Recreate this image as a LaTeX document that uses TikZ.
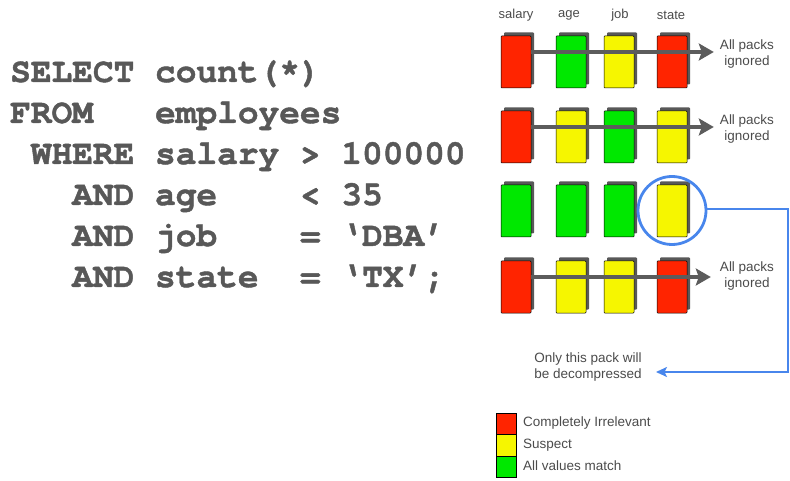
\documentclass[tikz,border=0pt]{standalone}
\usepackage{fontspec}
\setmainfont{Liberation Sans}
\newfontfamily\sqlfont[WordSpace={1,0,0},FakeBold=1.2]{texgyrecursor-bold.otf}
\usetikzlibrary{arrows.meta,shadows,calc}

\definecolor{sqlgray}{RGB}{88,88,88}
\definecolor{labelgray}{RGB}{75,75,75}
\definecolor{packred}{RGB}{255,36,0}
\definecolor{packgreen}{RGB}{0,232,0}
\definecolor{packyellow}{RGB}{246,246,0}
\definecolor{packshadow}{RGB}{88,88,88}
\definecolor{ringblue}{RGB}{72,134,236}
\definecolor{arrowgray}{RGB}{92,92,92}

\tikzset{
  pack/.style={draw=black, line width=0.5pt, minimum width=30pt, minimum height=52pt,
    inner sep=0pt, outer sep=0pt, rounded corners=0.8pt,
    general shadow={fill=packshadow, shadow xshift=3pt, shadow yshift=3.5pt}},
  red/.style={pack, fill=packred},
  grn/.style={pack, fill=packgreen},
  yel/.style={pack, fill=packyellow},
  sql/.style={anchor=base west, inner sep=0pt, text=sqlgray,
    font=\sqlfont\fontsize{34.5}{36}\selectfont},
  collabel/.style={text=labelgray, inner sep=0pt, font=\fontsize{13}{15}\selectfont},
  note/.style={text=labelgray, inner sep=0pt, align=center,
    font=\fontsize{13.5}{16}\selectfont},
  skiparrow/.style={draw=arrowgray, line width=4.5pt,
    -{Stealth[length=15pt,width=17pt,inset=3pt]}},
  legendbox/.style={draw=black, line width=0.6pt, minimum width=20pt, minimum height=21.5pt,
    inner sep=0pt, outer sep=0pt},
  legendtext/.style={anchor=west, text=labelgray, inner sep=0pt,
    font=\fontsize{13.5}{16}\selectfont},
}

\begin{document}
\begin{tikzpicture}[x=1pt,y=-1pt]
\useasboundingbox (0,0) rectangle (790,481);

% the query
\node[sql] (q1) at (10,82)  {SELECT~count(*)};
\node[sql] (q2) at (10,123) {FROM~~~employees};
\node[sql] (q3) at (10,164) {~WHERE~salary~>~100000};
\node[sql] (q4) at (10,205) {~~~AND~age~~~~<~35};
\node[sql] (q5) at (10,246) {~~~AND~job~~~~=~‘DBA’};
\node[sql] (q6) at (10,287) {~~~AND~state~~=~‘TX’;};

% column headings
\node[collabel] (hSal)   at (516,15) {salary};
\node[collabel] (hAge)   at (569,15) {age};
\node[collabel] (hJob)   at (620,15) {job};
\node[collabel] (hState) at (671,15) {state};

% data packs, one row per pack group
\node[red] (p11) at (516,62) {};
\node[grn] (p12) at (571,62) {};
\node[yel] (p13) at (619,62) {};
\node[red] (p14) at (672,62) {};

\node[red] (p21) at (516,137) {};
\node[yel] (p22) at (571,137) {};
\node[grn] (p23) at (619,137) {};
\node[yel] (p24) at (672,137) {};

\node[grn] (p31) at (516,211) {};
\node[grn] (p32) at (571,211) {};
\node[grn] (p33) at (619,211) {};
\node[yel] (p34) at (672,211) {};

\node[red] (p41) at (516,287) {};
\node[yel] (p42) at (571,287) {};
\node[yel] (p43) at (619,287) {};
\node[red] (p44) at (672,287) {};

% outcome labels
\node[note] (ign1) at (747,54)  {All packs\\ignored};
\node[note] (ign2) at (747,129) {All packs\\ignored};
\node[note] (ign4) at (747,276) {All packs\\ignored};
\node[note] (decomp) at (588,367) {Only this pack will\\be decompressed};

% skip arrows across irrelevant rows
\coordinate (s1) at ($(p11.north east)+(0,16)$);
\coordinate (s2) at ($(p21.north east)+(0,16)$);
\coordinate (s4) at ($(p41.north east)+(0,16)$);
\draw[skiparrow, shorten >=6pt] (s1) -- (s1 -| ign1.west);
\draw[skiparrow, shorten >=6pt] (s2) -- (s2 -| ign2.west);
\draw[skiparrow, shorten >=9pt] (s4) -- (s4 -| ign4.west);

% the one suspect pack that has to be opened
\node[draw=ringblue, line width=2.8pt, circle, minimum size=68pt, inner sep=0pt] (ring) at (672,210.5) {};
\coordinate (b1) at (788,209);
\coordinate (b2) at (788,372);
\coordinate (tip) at (656,372);
\draw[ringblue, line width=2.2pt, -{Stealth[length=11pt,width=10pt,inset=2.5pt]}]
  (ring.east |- b1) -- (b1) -- (b2) -- (tip);

% legend
\node[legendbox, fill=packred]    (lgR) at (506,424)   {};
\node[legendbox, fill=packyellow] (lgY) at (506,445.5) {};
\node[legendbox, fill=packgreen]  (lgG) at (506,467)   {};
\node[legendtext] (tR) at (523,423) {Completely Irrelevant};
\node[legendtext] (tY) at (523,445) {Suspect};
\node[legendtext] (tG) at (523,466) {All values match};
\end{tikzpicture}
\end{document}
